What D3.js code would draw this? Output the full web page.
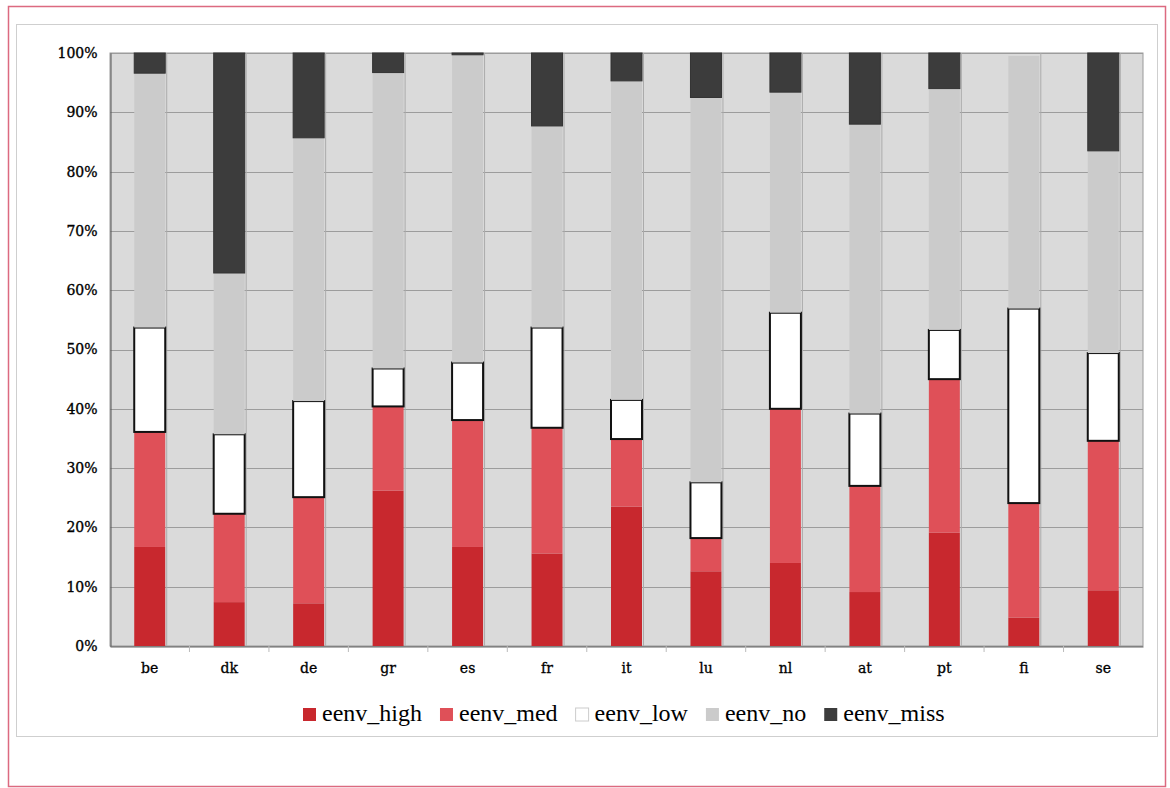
<!DOCTYPE html>
<html>
<head>
<meta charset="utf-8">
<script src="https://cdn.jsdelivr.net/npm/d3@7"></script>
<style>
  body { margin: 0; background: #fff; }
  svg { display: block; }
</style>
</head>
<body>
<svg id="chart" width="1170" height="788"></svg>
<script>
// dati (percentuali)
const countries = ['be', 'dk', 'de', 'gr', 'es', 'fr', 'it', 'lu', 'nl', 'at', 'pt', 'fi', 'se']
const eenvHigh = [16.7, 7.4, 7.2, 26.2, 16.7, 15.6, 23.5, 12.6, 14.0, 9.1, 19.1, 4.8, 9.4]
const eenvMed  = [19.4, 14.9, 17.9, 14.2, 21.4, 21.2, 11.4, 5.6, 26.0, 17.9, 25.9, 19.3, 25.2]
const eenvLow  = [17.6, 13.4, 16.2, 6.4, 9.7, 16.9, 6.6, 9.4, 16.2, 12.2, 8.3, 32.8, 14.8]
const eenvNo   = [42.9, 27.2, 44.4, 49.9, 51.9, 34.0, 53.8, 64.9, 37.2, 48.8, 40.7, 42.6, 34.1]
const eenvMiss = [3.4, 37.1, 14.3, 3.3, 0.3, 12.3, 4.7, 7.5, 6.6, 12.0, 6.0, 0, 16.5]
const seriesKeys = ['eenv_high', 'eenv_med', 'eenv_low', 'eenv_no', 'eenv_miss']
const yTicks = [0, 10, 20, 30, 40, 50, 60, 70, 80, 90, 100]

const colors = {
	eenv_high: '#c8282e',
	eenv_med: '#df5058',
	eenv_low: '#ffffff',
	eenv_no: '#cbcbcb',
	eenv_miss: '#3c3c3c'
}

const svg = d3.select('#chart')
const plotLeft = 110, plotRight = 1143, plotTop = 53, plotBottom = 646

// tabella per d3.stack
const table = countries.map((c, i) => ({
	country: c,
	eenv_high: eenvHigh[i],
	eenv_med: eenvMed[i],
	eenv_low: eenvLow[i],
	eenv_no: eenvNo[i],
	eenv_miss: eenvMiss[i]
}))
const stacked = d3.stack().keys(seriesKeys)(table)

const xScale = d3.scaleBand()
	.domain(countries)
	.range([plotLeft, plotRight])
	.paddingInner(0.61)
	.paddingOuter(0.305)

const yScale = d3.scaleLinear()
	.domain([0, 100])
	.range([plotBottom, plotTop])

// cornici esterne
svg.append('rect')
	.attr('x', 8.5).attr('y', 6.5)
	.attr('width', 1157).attr('height', 780)
	.attr('fill', 'none')
	.attr('stroke', '#dc6a80')
	.attr('stroke-width', 1.5)

svg.append('rect')
	.attr('x', 16.5).attr('y', 24.5)
	.attr('width', 1141).attr('height', 712)
	.attr('fill', 'none')
	.attr('stroke', '#cfcfcf')

// sfondo area del grafico
svg.append('rect')
	.attr('x', plotLeft).attr('y', plotTop)
	.attr('width', plotRight - plotLeft).attr('height', plotBottom - plotTop)
	.attr('fill', '#dadada')
	.attr('stroke', '#9a9a9a')

// griglia orizzontale
svg.append('g')
	.selectAll('line')
	.data(yTicks)
	.enter()
	.append('line')
		.attr('x1', plotLeft).attr('x2', plotRight)
		.attr('y1', d => Math.round(yScale(d)) + 0.5)
		.attr('y2', d => Math.round(yScale(d)) + 0.5)
		.attr('stroke', '#9c9c9c')

// linee verticali a destra delle barre
svg.append('g')
	.selectAll('line')
	.data(countries)
	.enter()
	.append('line')
		.attr('x1', d => xScale(d) + xScale.bandwidth() + 1.5)
		.attr('x2', d => xScale(d) + xScale.bandwidth() + 1.5)
		.attr('y1', plotTop).attr('y2', plotBottom)
		.attr('stroke', '#ababab')

// barre impilate
const layers = svg.append('g')
	.selectAll('g.layer')
	.data(stacked)
	.enter()
	.append('g')
		.attr('class', 'layer')
		.attr('fill', d => colors[d.key])

layers.selectAll('rect')
	.data(d => d.map(p => ({ key: d.key, p: p })))
	.enter()
	.append('rect')
		.attr('x', d => xScale(d.p.data.country))
		.attr('width', xScale.bandwidth())
		.attr('y', d => yScale(d.p[1]))
		.attr('height', d => yScale(d.p[0]) - yScale(d.p[1]))
		.attr('stroke', d => d.key === 'eenv_low' ? '#111' : (d.key === 'eenv_miss' ? '#333' : 'none'))
		.attr('stroke-width', d => d.key === 'eenv_low' ? 2 : 1)
		.style('display', d => d.p[1] - d.p[0] > 0 ? null : 'none')

// asse y
const yAxis = d3.axisLeft(yScale)
	.tickValues(yTicks)
	.tickFormat(d => d + '%')
	.tickSize(0)
	.tickPadding(13)

const yG = svg.append('g')
	.attr('transform', `translate(${plotLeft + 0.5}, 0)`)
	.call(yAxis)

yG.select('path.domain').attr('stroke', '#555')
yG.selectAll('.tick text')
	.style('font-family', '"DejaVu Serif", serif')
	.style('font-size', '14px')
	.style('fill', '#000')
	.style('stroke', '#000')
	.style('stroke-width', 0.35)

// asse x
const xAxis = d3.axisBottom(xScale)
	.tickSize(0)
	.tickPadding(17)

const xG = svg.append('g')
	.attr('transform', `translate(0, ${plotBottom + 0.5})`)
	.call(xAxis)

xG.select('path.domain').attr('stroke', '#666')
xG.selectAll('.tick text')
	.style('font-family', '"DejaVu Serif", serif')
	.style('font-size', '14px')
	.style('fill', '#000')
	.style('stroke', '#000')
	.style('stroke-width', 0.3)

// tacche tra le categorie
svg.append('g')
	.selectAll('line')
	.data(countries.slice(1))
	.enter()
	.append('line')
		.attr('x1', d => xScale(d) - xScale.step() * xScale.paddingInner() / 2)
		.attr('x2', d => xScale(d) - xScale.step() * xScale.paddingInner() / 2)
		.attr('y1', plotBottom).attr('y2', plotBottom + 6)
		.attr('stroke', '#bbb')

// legenda
const legend = svg.append('g')
let lx = 303
seriesKeys.forEach(k => {
	legend.append('rect')
		.attr('x', lx).attr('y', 708)
		.attr('width', 13).attr('height', 13)
		.attr('fill', colors[k])
		.attr('stroke', k === 'eenv_low' ? '#ccc' : 'none')
	const t = legend.append('text')
		.attr('x', lx + 19)
		.attr('y', 721)
		.style('font-family', '"Liberation Serif", "Times New Roman", serif')
		.style('font-size', '24px')
		.style('fill', '#000')
		.text(k)
	lx += 19 + t.node().getComputedTextLength() + 18
})
</script>
</body>
</html>
